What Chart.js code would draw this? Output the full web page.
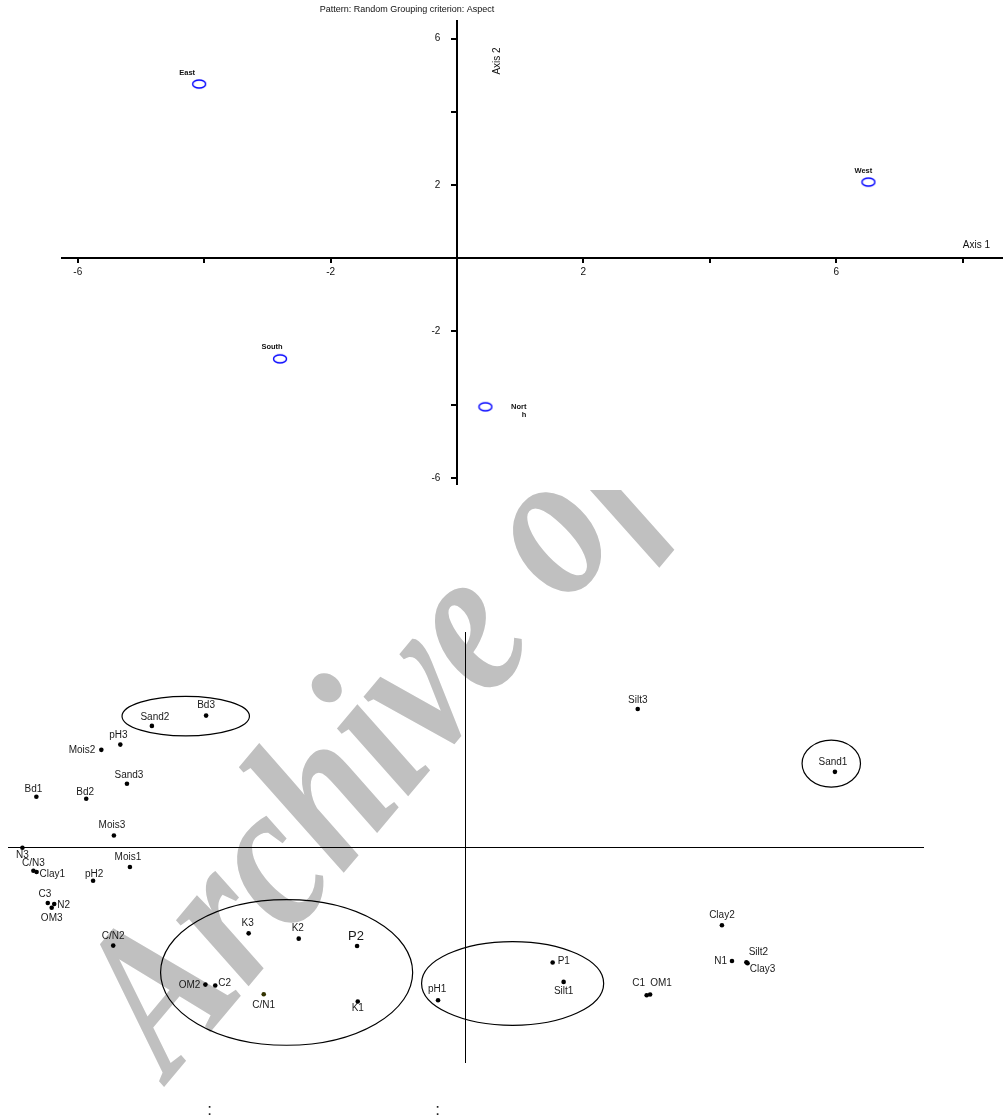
<!DOCTYPE html>
<html><head><meta charset="utf-8">
<script src="https://cdn.jsdelivr.net/npm/chart.js@4"></script>
<style>
html,body{margin:0;padding:0;background:#fff;width:1003px;height:1116px;overflow:hidden}
.wrap{position:absolute;left:0;width:1003px}
</style></head><body>
<div class="wrap" style="top:0;height:490px"><canvas id="topChart"></canvas></div>
<div class="wrap" style="top:490px;height:626px"><canvas id="botChart"></canvas></div>
<script>
// ---------- DATA: top panel (group centroids) ----------
const groupNames = ['East', 'West', 'South', 'North'];
const groupLabelText = ['East', 'West', 'South', 'Nort\nh'];
const groupAxis1 = [-4.08, 6.51, -2.80, 0.45];
const groupAxis2 = [4.76, 2.08, -2.75, -4.06];
const tickLabelValues = [-6, -2, 2, 6];
const chartTitle = 'Pattern: Random Grouping criterion: Aspect';
const axis1Title = 'Axis 1';
const axis2Title = 'Axis 2';

// ---------- DATA: bottom panel (variable categories) ----------
const varNames = ['Bd3','Sand2','pH3','Mois2','Sand3','Bd1','Bd2','Mois3','N3','C/N3','Clay1','Mois1','pH2','C3','N2','OM3','C/N2','K3','K2','P2','OM2','C2','C/N1','K1','pH1','P1','Silt1','C1','OM1','Clay2','N1','Silt2','Clay3','Silt3','Sand1'];
const varAxis1 = [-1.134,-1.371,-1.509,-1.592,-1.480,-1.876,-1.658,-1.537,-1.937,-1.889,-1.875,-1.467,-1.628,-1.826,-1.798,-1.809,-1.540,-0.948,-0.729,-0.474,-1.137,-1.094,-0.882,-0.471,-0.120,0.381,0.429,0.792,0.807,1.121,1.165,1.228,1.233,0.753,1.615];
const varAxis2 = [1.226,1.130,0.956,0.907,0.591,0.470,0.451,0.110,-0.005,-0.219,-0.231,-0.184,-0.312,-0.519,-0.528,-0.563,-0.916,-0.802,-0.851,-0.919,-1.279,-1.288,-1.369,-1.437,-1.425,-1.074,-1.254,-1.379,-1.372,-0.727,-1.059,-1.072,-1.080,1.288,0.702];

// grouping ellipses (centre on axes, radii in axis units)
const ellipseCx = [-1.223, 1.599, -0.782, 0.206];
const ellipseCy = [1.221, 0.779, -1.166, -1.268];
const ellipseRx = [0.2785, 0.1277, 0.551, 0.398];
const ellipseRy = [0.184, 0.2186, 0.678, 0.390];

const watermarkText = 'Archive of';
const strayMarks = [':', ':'];

// ---------- label placement (pixels, style only) ----------
const groupLabelPos = [[-12,-11,'c'],[-5,-11,'c'],[-8,-12,'c'],[41,0,'r']];
const varLabelPos = [[0,-10,'c'],[3,-9,'c'],[-2,-9,'c'],[-6,0,'r'],[2,-9,'c'],[-3,-8,'c'],[-1,-7,'c'],[-2,-10,'c'],[0,7,'c'],[0,-8,'c'],[3,2,'l'],[-2,-10,'c'],[1,-7,'c'],[-3,-9,'c'],[3,1,'l'],[0,11,'c'],[0,-9,'c'],[-1,-10,'c'],[-1,-10,'c'],[-1,-10,'c'],[-5,1,'r'],[3,-2,'l'],[0,11,'c'],[0,7,'c'],[-1,-11,'c'],[5,-1,'l'],[0,9,'c'],[-8,-12,'c'],[11,-11,'c'],[0,-10,'c'],[-5,0,'r'],[12,-10,'c'],[15,6,'c'],[0,-9,'c'],[-2,-10,'c']];

Chart.defaults.font.family = '"Liberation Sans", Arial, sans-serif';
Chart.defaults.color = '#111';

const alignMap = {c:'center', l:'left', r:'right'};

function ellipseMarker() {
  const c = document.createElement('canvas');
  c.width = 16; c.height = 12;
  const g = c.getContext('2d');
  g.strokeStyle = '#0000ff'; g.lineWidth = 1.4;
  g.beginPath(); g.ellipse(8, 6, 6.5, 4.0, 0, 0, Math.PI * 2); g.stroke();
  return c;
}

// ---------- TOP CHART ----------
const topLabels = {
  id: 'topLabels',
  afterDraw(chart) {
    const ctx = chart.ctx;
    ctx.save();
    ctx.fillStyle = '#111';
    ctx.textBaseline = 'middle';
    ctx.font = '9px "Liberation Sans", Arial, sans-serif';
    ctx.textAlign = 'center';
    ctx.fillText(chartTitle, 407, 10);
    ctx.font = '10px "Liberation Sans", Arial, sans-serif';
    ctx.textAlign = 'right';
    ctx.fillText(axis1Title, 990, 245.5);
    ctx.save();
    ctx.translate(497.5, 61);
    ctx.rotate(-Math.PI / 2);
    ctx.textAlign = 'center';
    ctx.fillText(axis2Title, 0, 0);
    ctx.restore();
    ctx.font = 'bold 7.5px "Liberation Sans", Arial, sans-serif';
    const meta = chart.getDatasetMeta(0);
    meta.data.forEach((el, i) => {
      const [dx, dy, al] = groupLabelPos[i];
      ctx.textAlign = alignMap[al];
      groupLabelText[i].split('\n').forEach((line, k) => {
        ctx.fillText(line, el.x + dx, el.y + dy + k * 8);
      });
    });
    ctx.restore();
  }
};

new Chart(document.getElementById('topChart'), {
  type: 'scatter',
  data: {
    datasets: [{
      label: 'Aspect',
      data: groupAxis1.map((x, i) => ({x: x, y: groupAxis2[i]})),
      pointStyle: ellipseMarker(),
      pointRadius: 7
    }]
  },
  options: {
    responsive: true, maintainAspectRatio: false, animation: false,
    layout: {autoPadding: false, padding: {left: 62, right: 0, top: 20.7, bottom: 5}},
    plugins: {legend: {display: false}, tooltip: {enabled: false}},
    scales: {
      x: {
        type: 'linear', min: -6.25, max: 8.64, position: {y: 0},
        border: {display: true, color: '#000', width: 2},
        grid: {display: true, drawOnChartArea: false, drawTicks: true, tickLength: 4, color: '#000', lineWidth: 2},
        ticks: {stepSize: 2, includeBounds: false, autoSkip: false, maxRotation: 0, padding: 4, color: '#111', font: {size: 10},
          callback: v => tickLabelValues.includes(v) ? String(v) : ''}
      },
      y: {
        type: 'linear', min: -6.17, max: 6.49, position: {x: 0},
        border: {display: true, color: '#000', width: 2},
        grid: {display: true, drawOnChartArea: false, drawTicks: true, tickLength: 5, color: '#000', lineWidth: 2},
        ticks: {stepSize: 2, includeBounds: false, autoSkip: false, padding: 0, color: '#111', font: {size: 10},
          callback: v => tickLabelValues.includes(v) ? String(v) + '      ' : ''}
      }
    }
  },
  plugins: [topLabels]
});

// ---------- BOTTOM CHART ----------
const watermark = {
  id: 'watermark',
  beforeDraw(chart) {
    const ctx = chart.ctx;
    ctx.save();
    ctx.translate(170, 1080 - 490);
    ctx.rotate(-50 * Math.PI / 180);
    ctx.scale(1, 1.2);
    ctx.font = 'italic bold 178px "Liberation Serif", "Times New Roman", serif';
    ctx.fillStyle = '#c0c0c0';
    ctx.textBaseline = 'alphabetic';
    ctx.textAlign = 'left';
    ctx.fillText(watermarkText, 0, 0);
    ctx.restore();
  }
};

const botDecor = {
  id: 'botDecor',
  afterDatasetsDraw(chart) {
    const ctx = chart.ctx;
    const xs = chart.scales.x, ys = chart.scales.y;
    const pxPerX = Math.abs(xs.getPixelForValue(1) - xs.getPixelForValue(0));
    const pxPerY = Math.abs(ys.getPixelForValue(1) - ys.getPixelForValue(0));
    ctx.save();
    ctx.strokeStyle = '#000';
    ctx.lineWidth = 1.2;
    ellipseCx.forEach((cx, i) => {
      ctx.beginPath();
      ctx.ellipse(xs.getPixelForValue(cx), ys.getPixelForValue(ellipseCy[i]),
        ellipseRx[i] * pxPerX, ellipseRy[i] * pxPerY, 0, 0, Math.PI * 2);
      ctx.stroke();
    });
    ctx.fillStyle = '#1a1a1a';
    ctx.textBaseline = 'middle';
    const meta = chart.getDatasetMeta(0);
    meta.data.forEach((el, i) => {
      const [dx, dy, al] = varLabelPos[i];
      ctx.font = (varNames[i] === 'P2' ? '13px' : '10px') + ' "Liberation Sans", Arial, sans-serif';
      ctx.textAlign = alignMap[al];
      ctx.fillText(varNames[i], el.x + dx, el.y + dy);
    });
    ctx.font = '17px "Liberation Sans", Arial, sans-serif';
    ctx.textAlign = 'center';
    ctx.textBaseline = 'alphabetic';
    ctx.fillStyle = '#222';
    ctx.fillText(strayMarks[0], 209.5, 625);
    ctx.fillText(strayMarks[1], 437.5, 625);
    ctx.restore();
  }
};

new Chart(document.getElementById('botChart'), {
  type: 'scatter',
  data: {
    datasets: [{
      label: 'Variables',
      data: varAxis1.map((x, i) => ({x: x, y: varAxis2[i]})),
      pointRadius: 2.3,
      pointBorderWidth: 0,
      pointBackgroundColor: varNames.map(n => n === 'C/N1' ? '#333300' : '#000'),
      pointBorderColor: 'rgba(0,0,0,0)'
    }]
  },
  options: {
    responsive: true, maintainAspectRatio: false, animation: false,
    layout: {autoPadding: false, padding: {left: 8, right: 80, top: 142.5, bottom: 54}},
    plugins: {legend: {display: false}, tooltip: {enabled: false}},
    scales: {
      x: {type: 'linear', min: -2, max: 2, position: {y: 0},
        border: {display: true, color: '#000', width: 1},
        grid: {display: false}, ticks: {display: false}},
      y: {type: 'linear', min: -2, max: 2, position: {x: 0},
        border: {display: true, color: '#000', width: 1},
        grid: {display: false}, ticks: {display: false}}
    }
  },
  plugins: [watermark, botDecor]
});
</script>
</body></html>
